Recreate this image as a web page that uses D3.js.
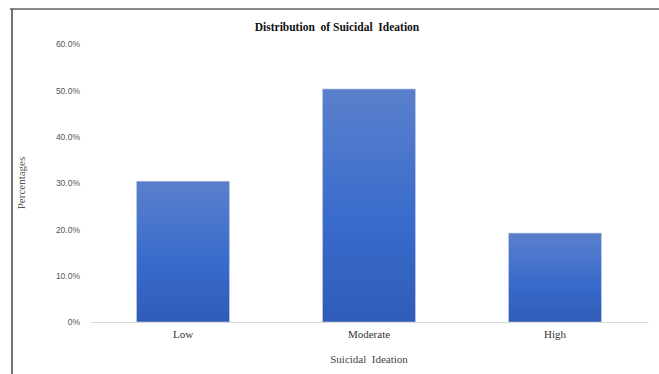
<!DOCTYPE html>
<html>
<head>
<meta charset="utf-8">
<script src="https://d3js.org/d3.v7.min.js"></script>
<style>
  * { margin: 0; padding: 0; }
  body { background: #fff; width: 659px; height: 374px; overflow: hidden; }
  text { white-space: pre; }
</style>
</head>
<body>
<svg id="chart" width="659" height="374"></svg>
<script>
// chart data
const categories = ["Low", "Moderate", "High"];
const values = [30.4, 50.3, 19.2];
const yTicks = [0, 10, 20, 30, 40, 50, 60];

const w = 659, h = 374;
const margin = { left: 90, right: 11, top: 44, bottom: 52 };

const svg = d3.select("#chart");

// frame lines (top and left)
svg.append("line").attr("x1", 10).attr("x2", w).attr("y1", 9).attr("y2", 9)
  .attr("stroke", "#8a8a8a").attr("stroke-width", 2);
svg.append("line").attr("x1", 12).attr("x2", 12).attr("y1", 9).attr("y2", h)
  .attr("stroke", "#444").attr("stroke-width", 1.5);

const x = d3.scaleBand()
  .domain(categories)
  .range([margin.left, w - margin.right])
  .paddingInner(0.5)
  .paddingOuter(0.25);

const y = d3.scaleLinear()
  .domain([0, 60])
  .range([h - margin.bottom, margin.top]);

// gradient for bars
const grad = svg.append("defs").append("linearGradient")
  .attr("id", "barGrad").attr("x1", 0).attr("x2", 0).attr("y1", 0).attr("y2", 1);
grad.append("stop").attr("offset", "0%").attr("stop-color", "#5a80cc");
grad.append("stop").attr("offset", "55%").attr("stop-color", "#3a6ccc");
grad.append("stop").attr("offset", "100%").attr("stop-color", "#2f5cb8");

// y axis
const yAxis = d3.axisLeft(y)
  .tickValues(yTicks)
  .tickSize(0)
  .tickPadding(10)
  .tickFormat(d => d === 0 ? "0%" : d.toFixed(1) + "%");

const gy = svg.append("g").attr("transform", `translate(${margin.left},0)`).call(yAxis);
gy.select(".domain").remove();
gy.selectAll("text")
  .attr("fill", "#555")
  .style("font-family", "'Liberation Sans', Arial, sans-serif")
  .style("font-size", "8.5px");

// bars
svg.selectAll("rect.bar")
  .data(values)
  .enter()
  .append("rect")
  .attr("class", "bar")
  .attr("x", (d, i) => x(categories[i]))
  .attr("y", d => y(d))
  .attr("width", x.bandwidth())
  .attr("height", d => y(0) - y(d))
  .attr("fill", "url(#barGrad)")
  .attr("stroke", "#c9cfe0")
  .attr("stroke-width", 0.6);

// x axis
const xAxis = d3.axisBottom(x).tickSize(0).tickPadding(8);
const gx = svg.append("g").attr("transform", `translate(0,${y(0)})`).call(xAxis);
gx.select(".domain").attr("stroke", "#d9d9d9").attr("stroke-width", 1.2);
gx.selectAll("text")
  .attr("fill", "#333")
  .style("font-family", "'Liberation Serif', 'Times New Roman', serif")
  .style("font-size", "11px");

// title
svg.append("text")
  .attr("x", 337).attr("y", 31)
  .attr("text-anchor", "middle")
  .style("font-family", "'Liberation Serif', 'Times New Roman', serif")
  .style("font-size", "11.5px")
  .style("font-weight", "bold")
  .attr("fill", "#111")
  .text("Distribution  of Suicidal  Ideation");

// axis titles
svg.append("text")
  .attr("x", 369).attr("y", 363)
  .attr("text-anchor", "middle")
  .style("font-family", "'Liberation Serif', 'Times New Roman', serif")
  .style("font-size", "11px")
  .attr("fill", "#444")
  .text("Suicidal  Ideation");

svg.append("text")
  .attr("transform", "translate(25,183) rotate(-90)")
  .attr("text-anchor", "middle")
  .style("font-family", "'Liberation Serif', 'Times New Roman', serif")
  .style("font-size", "11px")
  .attr("fill", "#555")
  .text("Percentages");
</script>
</body>
</html>
